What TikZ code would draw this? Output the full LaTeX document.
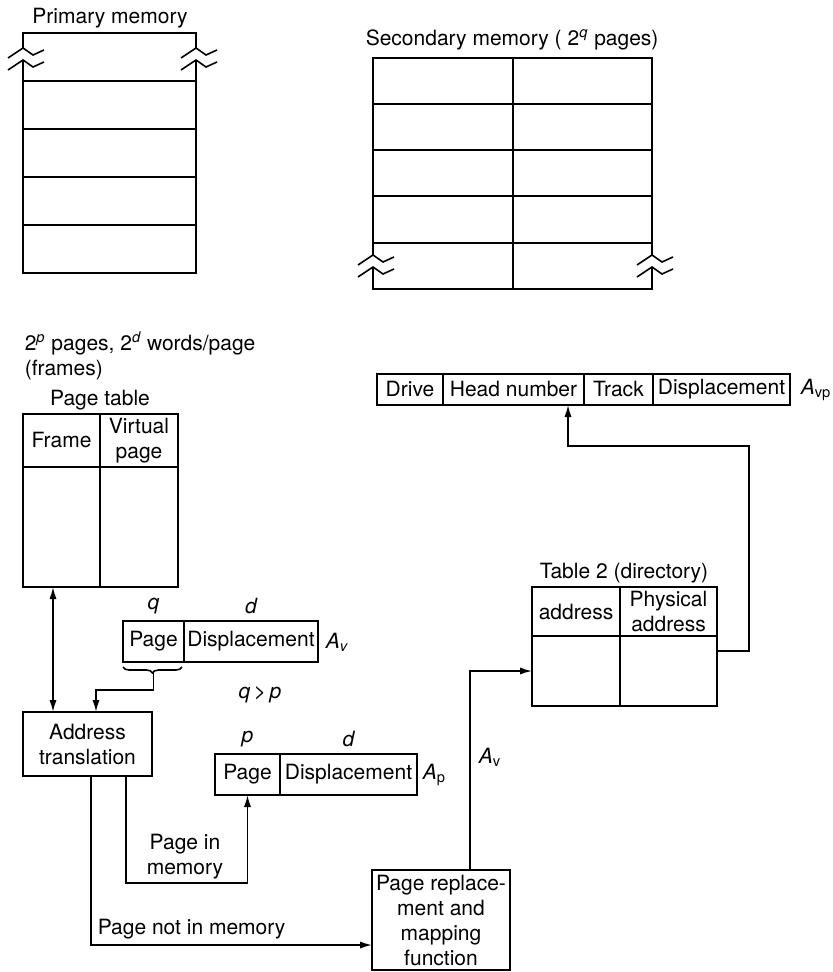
\documentclass[tikz,border=0pt]{standalone}
\usepackage{fontspec}
\setmainfont{TeX Gyre Heros}
\usetikzlibrary{positioning,arrows.meta,decorations.pathreplacing}

\tikzset{
  cell/.style={draw, line width=0.8pt, inner sep=0pt, outer sep=0pt, align=center},
  lbl/.style={inner sep=0pt, align=center},
  arr/.style={line width=0.8pt, -{Latex[length=6pt,width=3.6pt]}},
  dbl/.style={line width=0.8pt, {Latex[length=6pt,width=3.6pt]}-{Latex[length=6pt,width=3.6pt]}}
}

\begin{document}
\begin{tikzpicture}[x=0.5pt, y=-0.5pt, line width=0.8pt, font=\fontsize{10.5}{12.5}\selectfont]
\useasboundingbox (0,0) rectangle (833,972);

% Primary memory
\node[lbl] (pmlbl) at (110,18) {Primary memory};
\draw (23,48) -- (23,33) -- (196,33) -- (196,48);
\draw (23,60) -- (23,273) -- (196,273) -- (196,60);
\foreach \y in {81,129,177,225} \draw (23,\y) -- (196,\y);

% Secondary memory
\node[lbl, anchor=west] (smlbl) at (365,40) {Secondary memory ( 2\textsuperscript{\itshape q} pages)};
\draw (373,255) -- (373,58) -- (652,58) -- (652,255);
\draw (373,267) -- (373,289) -- (652,289) -- (652,267);
\foreach \y in {104,150,196,243} \draw (373,\y) -- (652,\y);
\draw (513,58) -- (513,289);

% Break marks
\foreach \x/\y in {23/48,196/48,373/255,652/255} {
  \draw (\x-15,\y+10) -- (\x,\y) -- (\x+10,\y+7) -- (\x+21,\y+2);
  \draw (\x-15,\y+22) -- (\x,\y+12) -- (\x+10,\y+19) -- (\x+21,\y+14);
}

\node[lbl, anchor=west, align=left] (frames) at (24,356)
  {2\textsuperscript{\itshape p} pages, 2\textsuperscript{\itshape d} words/page\\(frames)};

% Page table
\node[lbl] (ptlbl) at (100,400) {Page table};
\node[cell, minimum width=38.5pt, minimum height=26.5pt] (ptf) at (61.5,440.5) {Frame};
\node[cell, minimum width=39pt, minimum height=26.5pt, right=0pt of ptf] (ptv) {Virtual\\page};
\node[cell, minimum width=38.5pt, minimum height=60pt, below=0pt of ptf] (ptfb) {};
\node[cell, minimum width=39pt, minimum height=60pt, below=0pt of ptv] (ptvb) {};

% Disk address
\node[cell, minimum width=33pt, minimum height=15.5pt] (vdr) at (410,389.5) {Drive};
\node[cell, minimum width=70.5pt, minimum height=15.5pt, right=0pt of vdr] (vhd) {Head number};
\node[cell, minimum width=34.5pt, minimum height=15.5pt, right=0pt of vhd] (vtr) {Track};
\node[cell, minimum width=68.5pt, minimum height=15.5pt, right=0pt of vtr] (vds) {Displacement};
\node[lbl, anchor=west] (avp) at (800,390) {{\itshape A}\textsubscript{vp}};

% Table 2
\node[cell, minimum width=44pt, minimum height=24.5pt] (t2a) at (576,611.5) {address};
\node[cell, minimum width=48.5pt, minimum height=24.5pt, right=0pt of t2a] (t2p) {Physical\\address};
\node[cell, minimum width=44pt, minimum height=35pt, below=0pt of t2a] (t2ab) {};
\node[cell, minimum width=48.5pt, minimum height=35pt, below=0pt of t2p] (t2pb) {};
\node[lbl] (t2lbl) at (624,573) {Table 2 (directory)};

% Virtual address
\node[cell, minimum width=30.5pt, minimum height=20.5pt] (avq) at (153.5,641.5) {Page};
\node[cell, minimum width=67pt, minimum height=20.5pt, right=0pt of avq] (avd) {Displacement};
\node[lbl, above=3pt of avq] (qlbl) {\itshape q};
\node[lbl, above=3pt of avd] (dlbl) {\itshape d};
\node[lbl, anchor=west] (avlbl) at (325,642) {{\itshape A}\textsubscript{\itshape v}};
\node[lbl] (qgp) at (260,695) {{\itshape q}\,>\,{\itshape p}};

% Address translation
\node[cell, minimum width=64.5pt, minimum height=32pt] (atr) at (87.5,744) {Address\\translation};

% Physical address
\node[cell, minimum width=32.5pt, minimum height=20.5pt] (apq) at (247.5,774.5) {Page};
\node[cell, minimum width=68.5pt, minimum height=20.5pt, right=0pt of apq] (apd) {Displacement};
\node[lbl, above=3pt of apq] (plbl) {\itshape p};
\node[lbl, above=3pt of apd] (d2lbl) {\itshape d};
\node[lbl, anchor=west] (aplbl) at (422,775) {{\itshape A}\textsubscript{p}};

% Page replacement
\node[cell, minimum width=69pt, minimum height=50pt] (prep) at (441,920)
  {Page replace-\\ment and\\mapping\\function};

% Connectors
\draw[dbl] ([xshift=-4.25pt]ptfb.south) -- ([xshift=-4.25pt]ptfb.south |- atr.north);
\draw[decorate, decoration={brace, mirror, amplitude=3pt}] ([yshift=-2.5pt]avq.south west) -- ([xshift=-1pt,yshift=-2.5pt]avq.south east);
\draw[arr] ([yshift=-5.5pt]avq.south) |- ([xshift=4.25pt,yshift=11pt]atr.north) -- ([xshift=4.25pt]atr.north);

\draw[arr] ([xshift=19.25pt]atr.south) -- ++(0,107) -| (apq.south);
\node[lbl] (pim) at (185,857) {Page in\\memory};

\draw[arr] ([xshift=1.75pt]atr.south) |- ([yshift=-12.5pt]prep.west);
\node[lbl, anchor=west] (pnim) at (97,929) {Page not in memory};

\draw[arr] ([xshift=14.5pt]prep.north) |- (t2ab.west);
\node[lbl, anchor=west] (av2lbl) at (478,757) {{\itshape A}\textsubscript{v}};

\draw[arr] ([yshift=10pt]t2pb.east) -- ++(32,0) -- ++(0,-205) -| ([xshift=27.25pt]vhd.south);

\end{tikzpicture}
\end{document}
